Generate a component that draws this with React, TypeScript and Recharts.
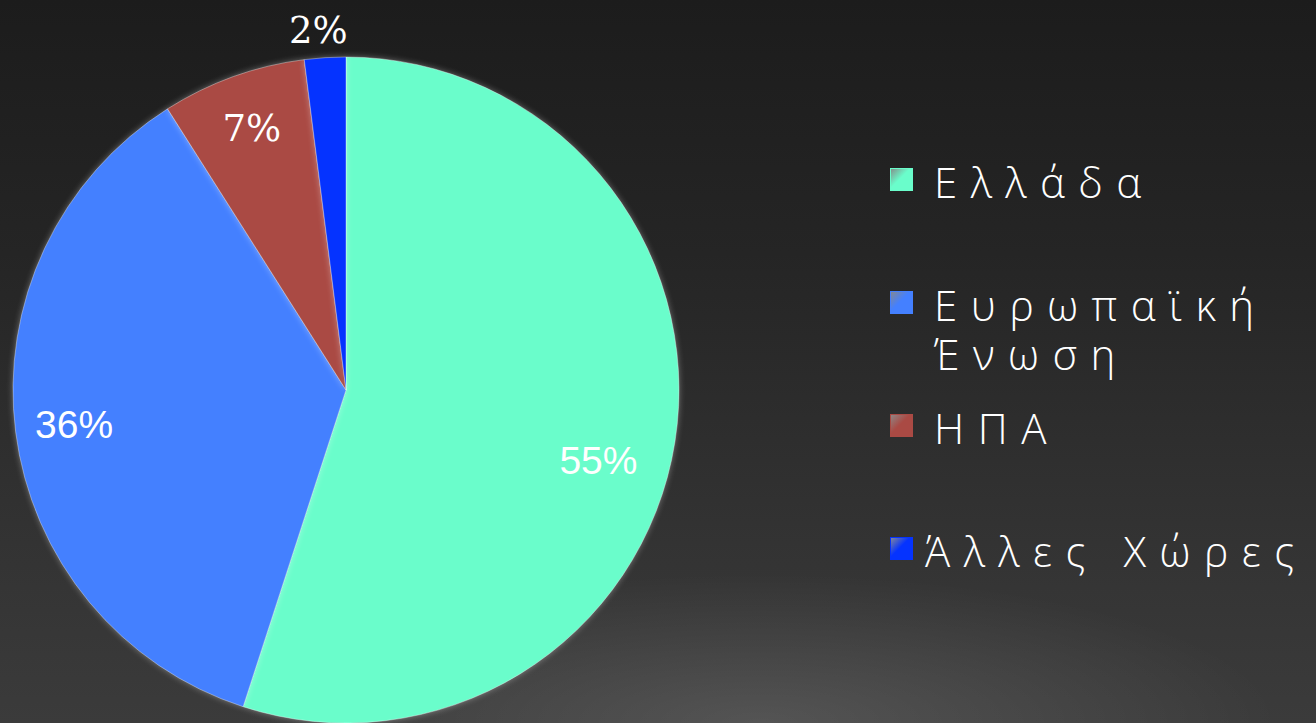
import { PieChart, Pie, Cell, Legend } from "recharts";

const CATEGORIES = ["Ελλάδα", "Ευρωπαϊκή Ένωση", "ΗΠΑ", "Άλλες Χώρες"];
const SHARES = [55, 36, 7, 2];
const COLORS = ["#6afdcb", "#4480ff", "#aa4a44", "#0533ff"];

// label placement tweaks (px from centre, degrees)
const LABEL_R = [262, 274, 278, 361];
const LABEL_NUDGE = [-6.5, 0, 0, 0.8];

const data = CATEGORIES.map((name, i) => ({ name, value: SHARES[i] }));
const RAD = Math.PI / 180;

const PctLabel = (props: any) => {
  const { cx, cy, midAngle, index, value } = props;
  const a = -(midAngle + LABEL_NUDGE[index]) * RAD;
  const x = cx + LABEL_R[index] * Math.cos(a);
  const y = cy + LABEL_R[index] * Math.sin(a);
  const serif = index >= 2;
  const family = serif ? "'DejaVu Serif', 'Liberation Serif', serif" : "'Liberation Sans', Arial, sans-serif";
  return (
    <g>
      <text
        x={x}
        y={y}
        fill="#ffffff"
        textAnchor="middle"
        dominantBaseline="central"
        fontFamily={family}
        fontSize={serif ? 37 : 39}
        style={{ fontFamily: family }}
      >
        <tspan fontFamily={family}>{value}%</tspan>
      </text>
    </g>
  );
};

const LegendBox = () => (
  <div style={{ width: 440 }}>
    {CATEGORIES.map((c, i) => (
      <div key={c} style={{ display: "flex", alignItems: "flex-start", height: 123 }}>
        <span
          style={{
            width: 23,
            height: 23,
            marginTop: 8,
            flex: "none",
            background: `linear-gradient(135deg, rgba(255,255,255,0.45), ${COLORS[i]} 45%)`,
            boxShadow: `inset 0 0 0 1px ${COLORS[i]}`,
          }}
        />
        <span
          style={{
            marginLeft: i === 3 ? 12 : 21,
            color: "#ffffff",
            fontFamily: "'Open Sans', 'Noto Sans', sans-serif",
            fontWeight: 300,
            fontSize: 42,
            letterSpacing: 13.5,
            lineHeight: "49px",
            marginTop: -3,
            whiteSpace: i === 3 ? "nowrap" : "normal",
            width: 390,
          }}
        >
          {c}
        </span>
      </div>
    ))}
  </div>
);

export default function App() {
  return (
    <div
      style={{
        position: "absolute",
        left: 0,
        top: 0,
        width: 1316,
        height: 723,
        overflow: "hidden",
        background:
          "radial-gradient(ellipse 520px 150px at 760px 723px, rgba(255,255,255,0.13), rgba(255,255,255,0) 100%), linear-gradient(to bottom, #1c1c1c 0%, #252525 35%, #333333 75%, #3b3b3b 100%)",
      }}
    >
      <style>{`.recharts-pie-sector path { filter: drop-shadow(0 0 3px rgba(255,255,255,0.35)); }`}</style>
      <PieChart width={1316} height={723} margin={{ top: 0, right: 0, bottom: 0, left: 0 }}>
        <Pie
          data={data}
          dataKey="value"
          nameKey="name"
          cx={346}
          cy={390}
          outerRadius={333}
          startAngle={90}
          endAngle={-270}
          stroke="rgba(255,255,255,0.35)"
          strokeWidth={1}
          label={PctLabel}
          labelLine={false}
          isAnimationActive={false}
        >
          {data.map((d, i) => (
            <Cell key={d.name} fill={COLORS[i]} />
          ))}
        </Pie>
        <Legend
          content={<LegendBox />}
          layout="vertical"
          wrapperStyle={{ position: "absolute", left: 890, top: 160, width: 440 }}
        />
      </PieChart>
    </div>
  );
}
